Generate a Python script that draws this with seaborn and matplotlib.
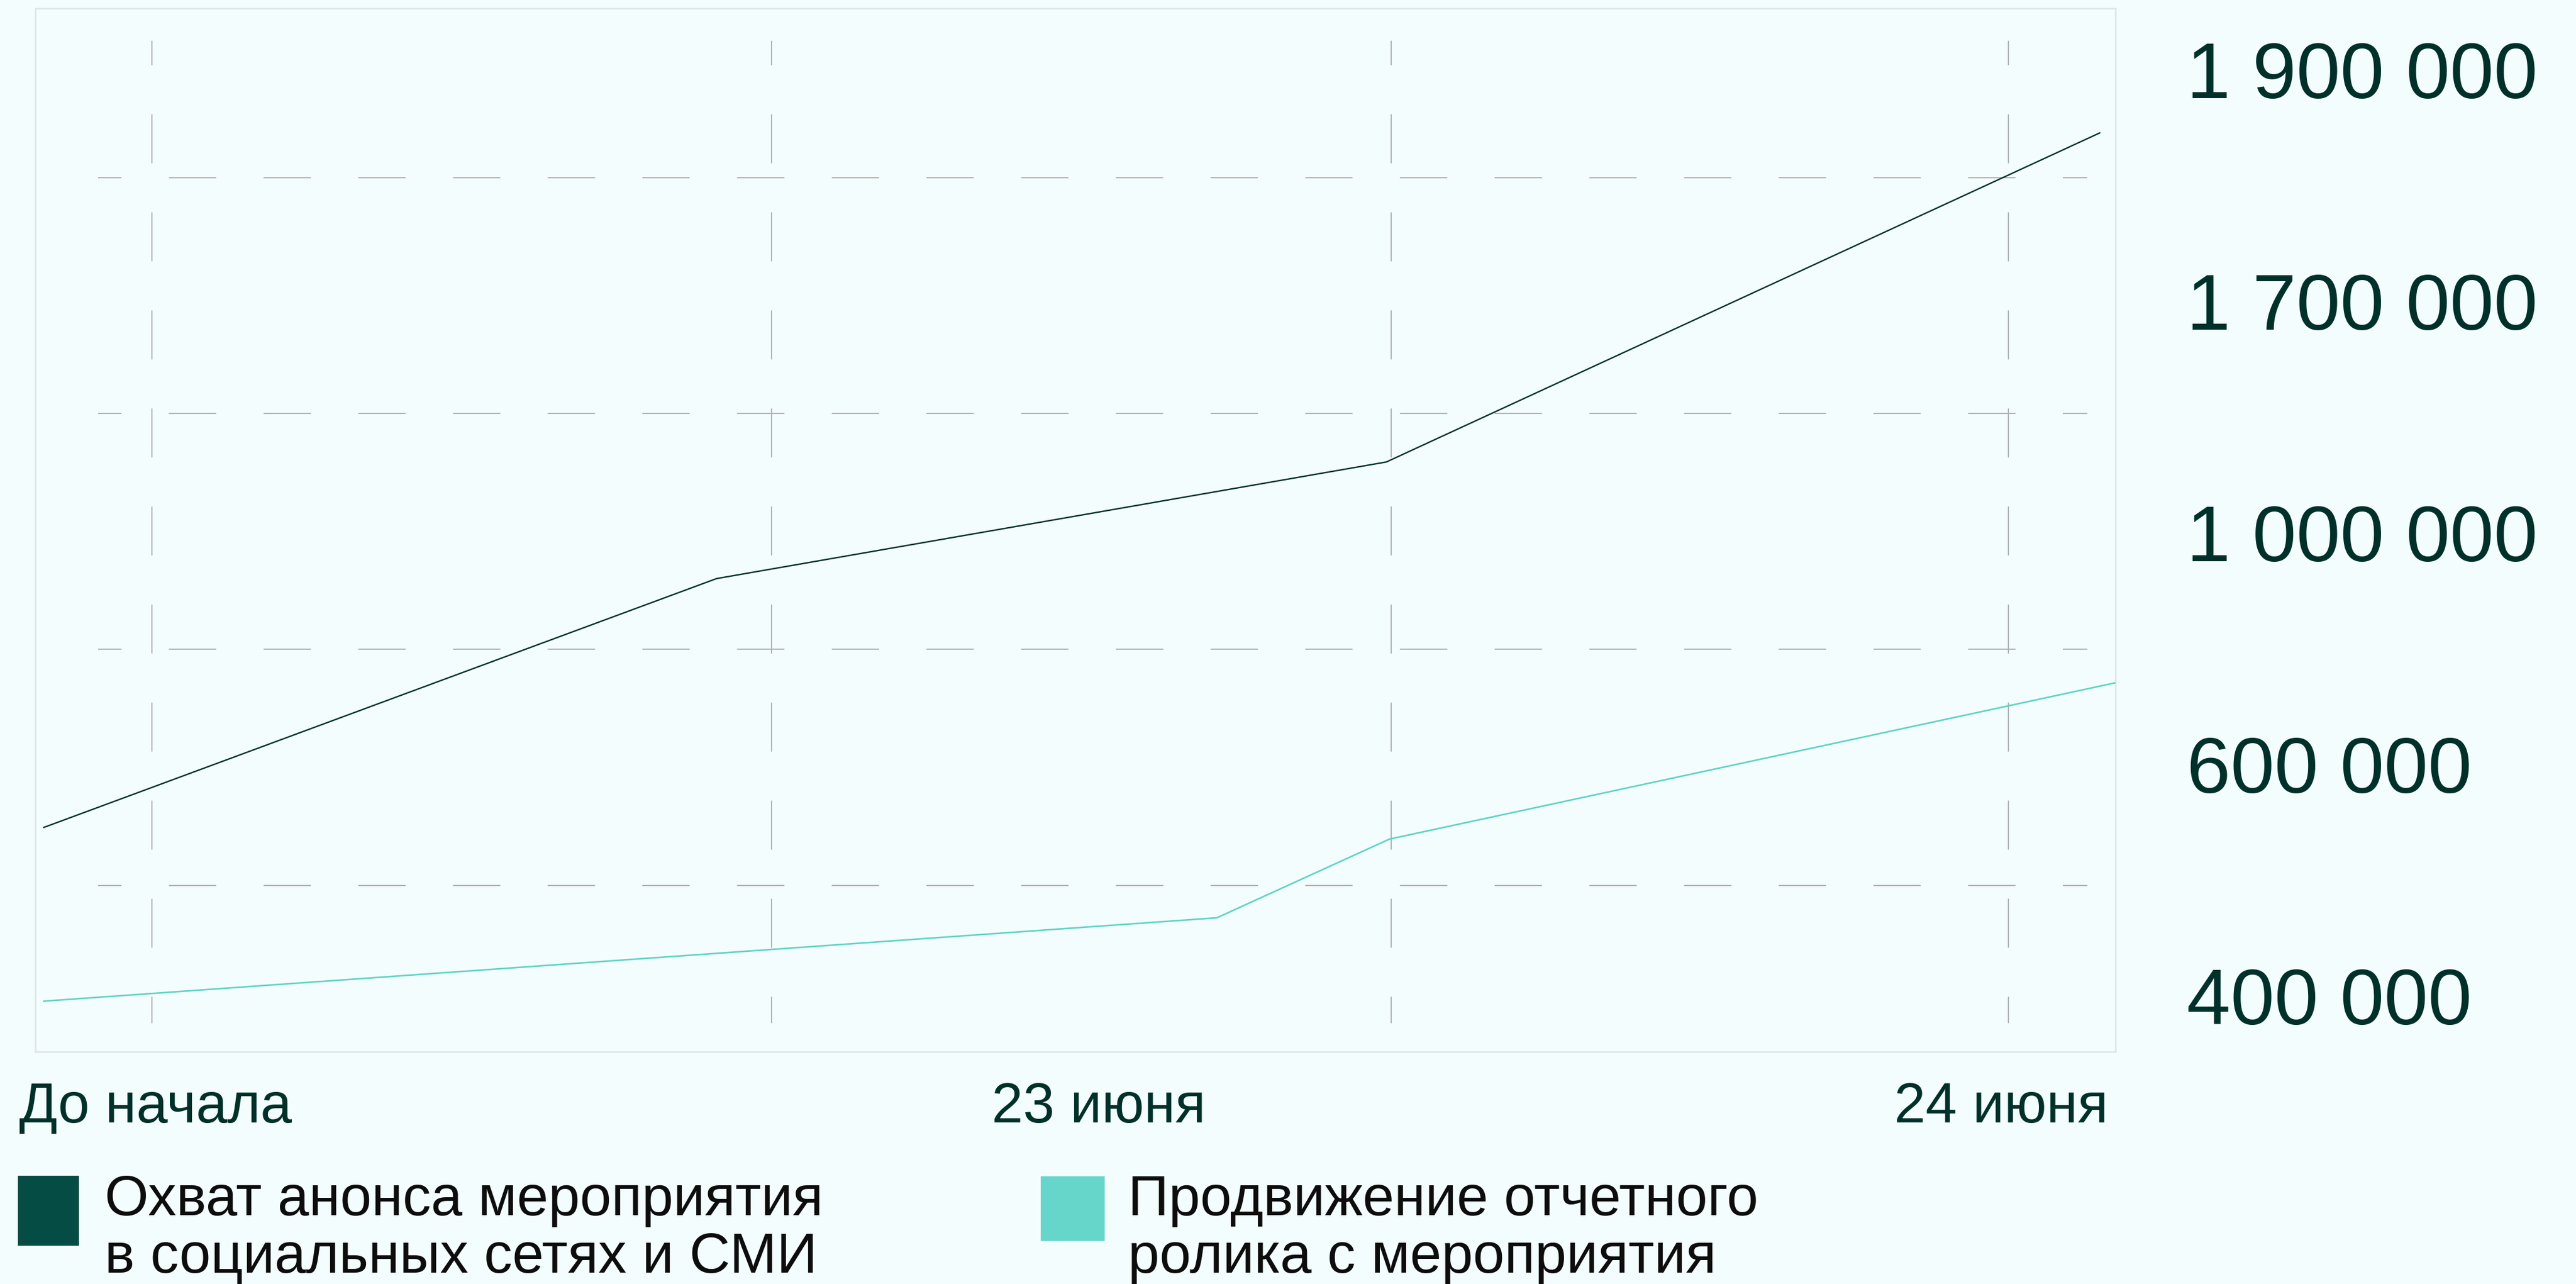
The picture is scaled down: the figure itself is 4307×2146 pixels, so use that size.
import numpy as np
import pandas as pd
import seaborn as sns
import matplotlib
import matplotlib.pyplot as plt
from matplotlib.patches import Rectangle

# подписи осей
y_ticks = [400000, 600000, 1000000, 1700000, 1900000]
y_labels = ['400 000', '600 000', '1 000 000', '1 700 000', '1 900 000']
x_labels = ['До начала', '23 июня', '24 июня']

# ряды (x - доля времени от начала до конца периода)
reach_x = [0.004, 0.3275, 0.6495, 0.9925]
reach_y = [570000, 970000, 1300000, 1870000]
video_x = [0.004, 0.568, 0.651, 1.0]
video_y = [420000, 492000, 560000, 790000]

legend_labels = ['Охват анонса мероприятия\nв социальных сетях и СМИ',
                 'Продвижение отчетного\nролика с мероприятия']

BG = '#F4FDFD'
DARK = '#00302A'
DARK_SQ = '#054D44'
TEAL = '#5ED3C7'
TEAL_SQ = '#66D5CA'
GRID = '#AFB4B4'
BORDER = '#E0E6E6'

idx = np.arange(len(y_ticks), dtype=float)
tv = np.array(y_ticks, dtype=float)


def forward(v):
    v = np.asarray(v, dtype=float)
    out = np.interp(v, tv, idx)
    out = np.where(v < tv[0], (v - tv[0]) / (tv[1] - tv[0]), out)
    out = np.where(v > tv[-1], idx[-1] + (v - tv[-1]) / (tv[-1] - tv[-2]), out)
    return out


def inverse(i):
    i = np.asarray(i, dtype=float)
    out = np.interp(i, idx, tv)
    out = np.where(i < 0, tv[0] + i * (tv[1] - tv[0]), out)
    out = np.where(i > idx[-1], tv[-1] + (i - idx[-1]) * (tv[-1] - tv[-2]), out)
    return out


sns.set_theme(style="white")
plt.rcParams['font.family'] = ['Liberation Sans', 'DejaVu Sans']
plt.rcParams['lines.scale_dashes'] = False

W, H = 4307, 2146
fig = plt.figure(figsize=(W / 100, H / 100), dpi=100, facecolor=BG)
ax = fig.add_axes([59 / W, 1 - 1758 / H, 3478 / W, 1744 / H])
ax.set_facecolor(BG)
ax.set_yscale('function', functions=(forward, inverse))

df_reach = pd.DataFrame({'x': reach_x, 'y': reach_y})
df_video = pd.DataFrame({'x': video_x, 'y': video_y})
sns.lineplot(data=df_reach, x='x', y='y', ax=ax, color=DARK, linewidth=1.7, sort=False, zorder=3)
sns.lineplot(data=df_video, x='x', y='y', ax=ax, color=TEAL, linewidth=1.9, sort=False, zorder=3)

# пунктирная сетка внутри рамки
for gy in [0.8377, 0.6118, 0.3859, 0.1594]:
    ax.plot([0.0302, 0.9865], [gy, gy], transform=ax.transAxes, color=GRID,
            lw=1.44, linestyle=(28.8, (57.0, 57.0)), zorder=1)
for gx in [0.0561, 0.3539, 0.6518, 0.9485]:
    ax.plot([gx, gx], [0.969, 0.0275], transform=ax.transAxes, color=GRID,
            lw=1.44, linestyle=(29.5, (59.0, 59.0)), zorder=1)

ax.set_xlim(0, 1)
ax.set_ylim(inverse(-0.1189), inverse(4.3876))
ax.set_xlabel('')
ax.set_ylabel('')
ax.set_xticks([])
ax.yaxis.tick_right()
ax.set_yticks(y_ticks, y_labels)
ax.tick_params(axis='y', length=0, pad=86, labelsize=95, labelcolor=DARK)
for t in ax.get_yticklabels():
    t.set_verticalalignment('baseline')
    t.set_horizontalalignment('left')
ax.minorticks_off()
for s in ax.spines.values():
    s.set_color(BORDER)
    s.set_linewidth(2.0)

# подписи по оси x
x_pos = [(32 - 59) / 3478, (1837 - 59) / 3478, (3525 - 59) / 3478]
x_ha = ['left', 'center', 'right']
for lab, xp, ha in zip(x_labels, x_pos, x_ha):
    ax.text(xp, (1758 - 1876) / 1744, lab, transform=ax.transAxes, ha=ha, va='baseline',
            fontsize=68, color=DARK, clip_on=False)

# легенда
squares = [(30, 1965, 102, 117, DARK_SQ), (1740, 1966, 107, 108, TEAL_SQ)]
text_x = [175, 1886]
for (sx, sy, sw, sh, c), tx, lab in zip(squares, text_x, legend_labels):
    fig.patches.append(Rectangle((sx / W, 1 - (sy + sh) / H), sw / W, sh / H,
                                 transform=fig.transFigure, color=c, lw=0))
    for k, line in enumerate(lab.split('\n')):
        fig.text(tx / W, 1 - (2031 + 96 * k) / H, line, ha='left', va='baseline',
                 fontsize=68, color='#0D0D0D')

fig.savefig('out.png', dpi=100, facecolor=BG)
